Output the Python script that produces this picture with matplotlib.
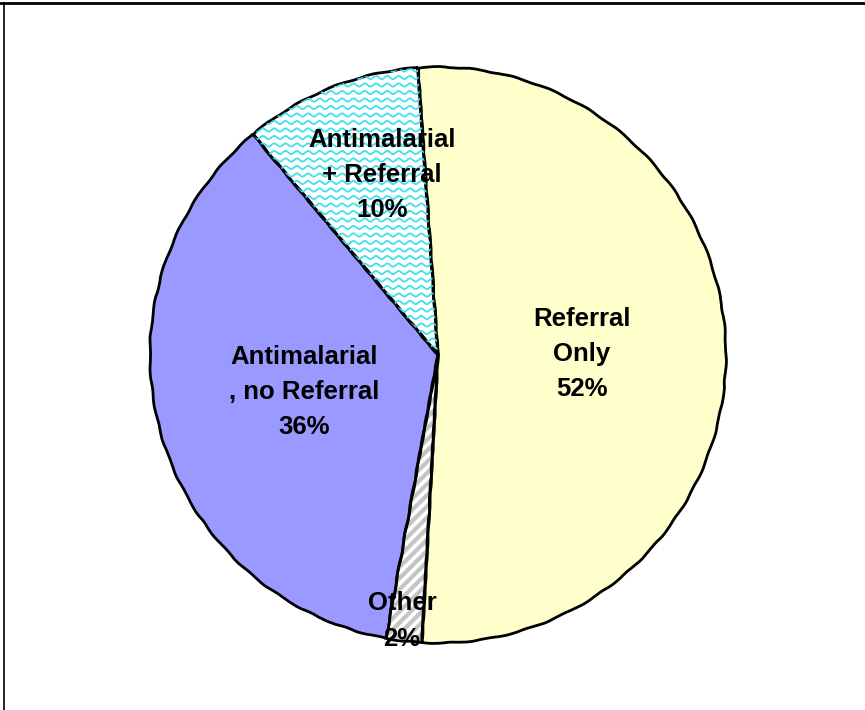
import numpy as np
import matplotlib
matplotlib.use("Agg")
import matplotlib.pyplot as plt
from matplotlib.patches import Wedge

# slices, clockwise from the top
labels = ["Referral\nOnly", "Other", "Antimalarial\n, no Referral", "Antimalarial\n+ Referral"]
values = [52, 2, 36, 10]
colors = ["#FFFFCC", "white", "#9999FF", "white"]
label_pos = [(582, 354), (402, 621), (304, 392), (382, 175)]  # image px

W, H = 865, 710
cx, cy, r = 438, 355, 288

plt.rcParams["font.family"] = ["Liberation Sans", "DejaVu Sans"]
plt.rcParams["hatch.linewidth"] = 3.0

fig = plt.figure(figsize=(W / 100, H / 100), dpi=100)
ax = fig.add_axes([0, 0, 1, 1])

wedges, _ = ax.pie(values, colors=colors, startangle=94, counterclock=False,
                   center=(cx, H - cy), radius=r, frame=True,
                   wedgeprops=dict(edgecolor="none", linewidth=0))
ax.set_xlim(0, W)
ax.set_ylim(0, H)
ax.set_aspect("equal")
ax.axis("off")

# grey diagonal stripes for "Other"
w = wedges[1]
hw = Wedge(w.center, w.r, w.theta1, w.theta2, facecolor="none",
           edgecolor="#C4C4C4", hatch="///", linewidth=0)
ax.add_patch(hw)

# cyan wavy pattern for "Antimalarial + Referral"
w = wedges[3]
xs = np.linspace(cx - r, cx + r, 1500)
for y0 in np.arange(H - cy, H - cy + r + 10, 7.5):
    ln, = ax.plot(xs, y0 + 1.6 * np.sin(xs / 1.8), color="#40E0EE", lw=1.3)
    ln.set_clip_path(w)

# black outlines
for w in wedges:
    ow = Wedge(w.center, w.r, w.theta1, w.theta2, facecolor="none",
               edgecolor="black", linewidth=2)
    ow.set_sketch_params(0.5, 40, 2)
    ax.add_patch(ow)

for lab, v, (x, y) in zip(labels, values, label_pos):
    ax.text(x, H - y, f"{lab}\n{v}%", ha="center", va="center",
            fontsize=18.5, fontweight="bold", linespacing=1.6)

# frame lines
fig.add_artist(plt.Line2D([0, 1], [1 - 3 / H, 1 - 3 / H], color="black", lw=2))
fig.add_artist(plt.Line2D([4 / W, 4 / W], [0, 1 - 3 / H], color="black", lw=1.2))

fig.savefig("out.png", dpi=100)
